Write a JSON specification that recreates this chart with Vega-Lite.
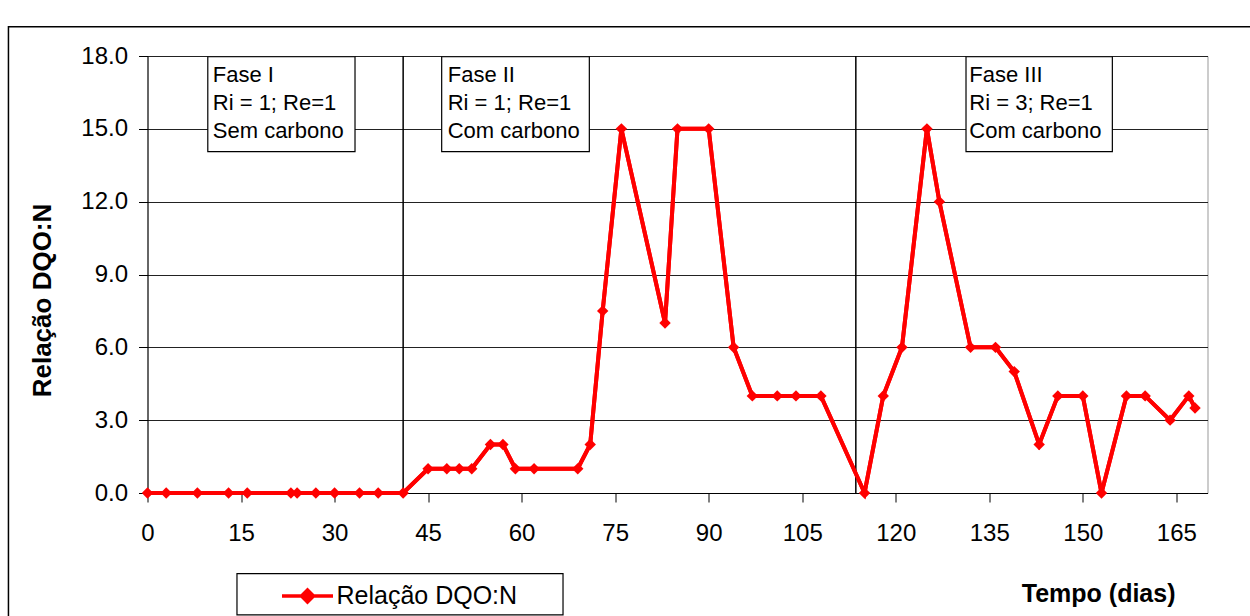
{
  "$schema": "https://vega.github.io/schema/vega-lite/v6.json",
  "width": 1060,
  "height": 437,
  "autosize": {"type": "none"},
  "padding": {"left": 147.5, "top": 56, "right": 42.5, "bottom": 123},
  "background": "white",
  "config": {
    "font": "Liberation Sans",
    "view": {"stroke": "#999", "strokeWidth": 1},
    "axis": {
      "labelFont": "Liberation Sans",
      "labelColor": "#000",
      "labelFontSize": 24,
      "labelFlush": false,
      "labelOverlap": false,
      "titleFont": "Liberation Sans",
      "titleColor": "#000",
      "titleFontWeight": "bold",
      "domainColor": "#000",
      "domainWidth": 1,
      "tickColor": "#000",
      "tickWidth": 1,
      "tickSize": 9,
      "gridColor": "#222",
      "gridWidth": 1,
      "gridOpacity": 1
    },
    "axisX": {
      "grid": false,
      "labelPadding": 19,
      "titleX": 1027.5,
      "titleY": 108,
      "titleAlign": "right",
      "titleBaseline": "alphabetic",
      "titleFontSize": 25
    },
    "axisY": {
      "grid": true,
      "labelPadding": 11,
      "titleX": -97.5,
      "titleY": 244,
      "titleAngle": 270,
      "titleAlign": "center",
      "titleBaseline": "alphabetic",
      "titleFontSize": 26
    }
  },
  "datasets": {
    "serie": [
      {"dia": 0, "valor": 0}, {"dia": 3, "valor": 0}, {"dia": 8, "valor": 0},
      {"dia": 13, "valor": 0}, {"dia": 16, "valor": 0}, {"dia": 23, "valor": 0},
      {"dia": 24, "valor": 0}, {"dia": 27, "valor": 0}, {"dia": 30, "valor": 0},
      {"dia": 34, "valor": 0}, {"dia": 37, "valor": 0}, {"dia": 41, "valor": 0},
      {"dia": 45, "valor": 1}, {"dia": 48, "valor": 1}, {"dia": 50, "valor": 1},
      {"dia": 52, "valor": 1}, {"dia": 55, "valor": 2}, {"dia": 57, "valor": 2},
      {"dia": 59, "valor": 1}, {"dia": 62, "valor": 1}, {"dia": 69, "valor": 1},
      {"dia": 71, "valor": 2}, {"dia": 73, "valor": 7.5}, {"dia": 76, "valor": 15},
      {"dia": 83, "valor": 7}, {"dia": 85, "valor": 15}, {"dia": 90, "valor": 15},
      {"dia": 94, "valor": 6}, {"dia": 97, "valor": 4}, {"dia": 101, "valor": 4},
      {"dia": 104, "valor": 4}, {"dia": 108, "valor": 4}, {"dia": 115, "valor": 0},
      {"dia": 118, "valor": 4}, {"dia": 121, "valor": 6}, {"dia": 125, "valor": 15},
      {"dia": 127, "valor": 12}, {"dia": 132, "valor": 6}, {"dia": 136, "valor": 6},
      {"dia": 139, "valor": 5}, {"dia": 143, "valor": 2}, {"dia": 146, "valor": 4},
      {"dia": 150, "valor": 4}, {"dia": 153, "valor": 0}, {"dia": 157, "valor": 4},
      {"dia": 160, "valor": 4}, {"dia": 164, "valor": 3}, {"dia": 167, "valor": 4},
      {"dia": 168, "valor": 3.5}
    ],
    "mudancas": [{"dia": 41}, {"dia": 113.6}],
    "unico": [{}]
  },
  "layer": [
    {
      "mark": {"type": "line", "strokeWidth": 4},
      "data": {"name": "serie"},
      "encoding": {
        "x": {
          "field": "dia",
          "type": "quantitative",
          "scale": {"domain": [0, 170], "nice": false},
          "axis": {
            "title": "Tempo (dias)",
            "values": [0, 15, 30, 45, 60, 75, 90, 105, 120, 135, 150, 165]
          }
        },
        "y": {
          "field": "valor",
          "type": "quantitative",
          "scale": {"domain": [0, 18], "nice": false},
          "axis": {
            "title": "Relação DQO:N",
            "values": [0, 3, 6, 9, 12, 15, 18],
            "format": ".1f"
          }
        },
        "color": {
          "datum": "Relação DQO:N",
          "type": "nominal",
          "scale": {"range": ["#ff0000"]},
          "legend": {
            "title": null,
            "orient": "none",
            "legendX": 89.5,
            "legendY": 517,
            "strokeColor": null,
            "fillColor": null,
            "padding": 1,
            "symbolType": "M-1.275,0H1.275M0,-0.3L0.3,0L0,0.3L-0.3,0Z",
            "symbolSize": 1600,
            "symbolStrokeWidth": 3.5,
            "symbolFillColor": "#ff0000",
            "symbolStrokeColor": "#ff0000",
            "symbolOffset": 47.5,
            "labelOffset": 7,
            "labelLimit": 600,
            "labelFontSize": 25,
            "labelFont": "Liberation Sans",
            "labelColor": "#000",
            "encode": {
              "symbols": {
                "update": {
                  "fill": {"value": "#ff0000"},
                  "stroke": {"value": "#ff0000"},
                  "strokeWidth": {"value": 3.5},
                  "opacity": {"value": 1}
                }
              }
            }
          }
        }
      }
    },
    {
      "mark": {"type": "rect", "fill": "transparent", "stroke": "#000", "strokeWidth": 1.5, "clip": false},
      "data": {"name": "unico"},
      "encoding": {
        "x": {"datum": -22.3, "type": "quantitative"},
        "x2": {"datum": 200},
        "y": {"datum": 19.2, "type": "quantitative"},
        "y2": {"datum": -10}
      }
    },
    {
      "mark": {"type": "rect", "fill": "white", "stroke": "#000", "strokeWidth": 1.2, "clip": false},
      "data": {"name": "unico"},
      "encoding": {
        "x": {"datum": 14.35, "type": "quantitative"},
        "x2": {"datum": 66.64},
        "y": {"datum": -3.32, "type": "quantitative"},
        "y2": {"datum": -5.02}
      }
    },
    {
      "mark": {"type": "rule", "color": "#000", "strokeWidth": 1.5},
      "data": {"name": "mudancas"},
      "encoding": {
        "x": {"field": "dia", "type": "quantitative"}
      }
    },
    {
      "mark": {"type": "rect", "fill": "white", "stroke": "#000", "strokeWidth": 1.2},
      "data": {"name": "unico"},
      "encoding": {
        "x": {"datum": 9.67, "type": "quantitative"},
        "x2": {"datum": 33.28},
        "y": {"datum": 17.97, "type": "quantitative"},
        "y2": {"datum": 14.06}
      }
    },
    {
      "mark": {"type": "rect", "fill": "white", "stroke": "#000", "strokeWidth": 1.2},
      "data": {"name": "unico"},
      "encoding": {
        "x": {"datum": 47.18, "type": "quantitative"},
        "x2": {"datum": 70.86},
        "y": {"datum": 17.97, "type": "quantitative"},
        "y2": {"datum": 14.06}
      }
    },
    {
      "mark": {"type": "rect", "fill": "white", "stroke": "#000", "strokeWidth": 1.2},
      "data": {"name": "unico"},
      "encoding": {
        "x": {"datum": 131.27, "type": "quantitative"},
        "x2": {"datum": 154.74},
        "y": {"datum": 17.97, "type": "quantitative"},
        "y2": {"datum": 14.06}
      }
    },
    {
      "mark": {"type": "text", "align": "left", "baseline": "alphabetic", "fontSize": 22, "lineHeight": 28, "font": "Liberation Sans", "color": "#000"},
      "data": {"name": "unico"},
      "encoding": {
        "x": {"datum": 10.47, "type": "quantitative"},
        "y": {"datum": 16.94, "type": "quantitative"},
        "text": {"value": ["Fase I", "Ri = 1; Re=1", "Sem carbono"]}
      }
    },
    {
      "mark": {"type": "text", "align": "left", "baseline": "alphabetic", "fontSize": 22, "lineHeight": 28, "font": "Liberation Sans", "color": "#000"},
      "data": {"name": "unico"},
      "encoding": {
        "x": {"datum": 48.15, "type": "quantitative"},
        "y": {"datum": 16.94, "type": "quantitative"},
        "text": {"value": ["Fase II", "Ri = 1; Re=1", "Com carbono"]}
      }
    },
    {
      "mark": {"type": "text", "align": "left", "baseline": "alphabetic", "fontSize": 22, "lineHeight": 28, "font": "Liberation Sans", "color": "#000"},
      "data": {"name": "unico"},
      "encoding": {
        "x": {"datum": 131.8, "type": "quantitative"},
        "y": {"datum": 16.94, "type": "quantitative"},
        "text": {"value": ["Fase III", "Ri = 3; Re=1", "Com carbono"]}
      }
    },
    {
      "mark": {"type": "line", "strokeWidth": 4, "color": "#ff0000"},
      "data": {"name": "serie"},
      "encoding": {
        "x": {"field": "dia", "type": "quantitative"},
        "y": {"field": "valor", "type": "quantitative"}
      }
    },
    {
      "mark": {"type": "point", "shape": "diamond", "filled": true, "size": 130, "color": "#ff0000", "opacity": 1},
      "data": {"name": "serie"},
      "encoding": {
        "x": {"field": "dia", "type": "quantitative"},
        "y": {"field": "valor", "type": "quantitative"}
      }
    }
  ]
}
